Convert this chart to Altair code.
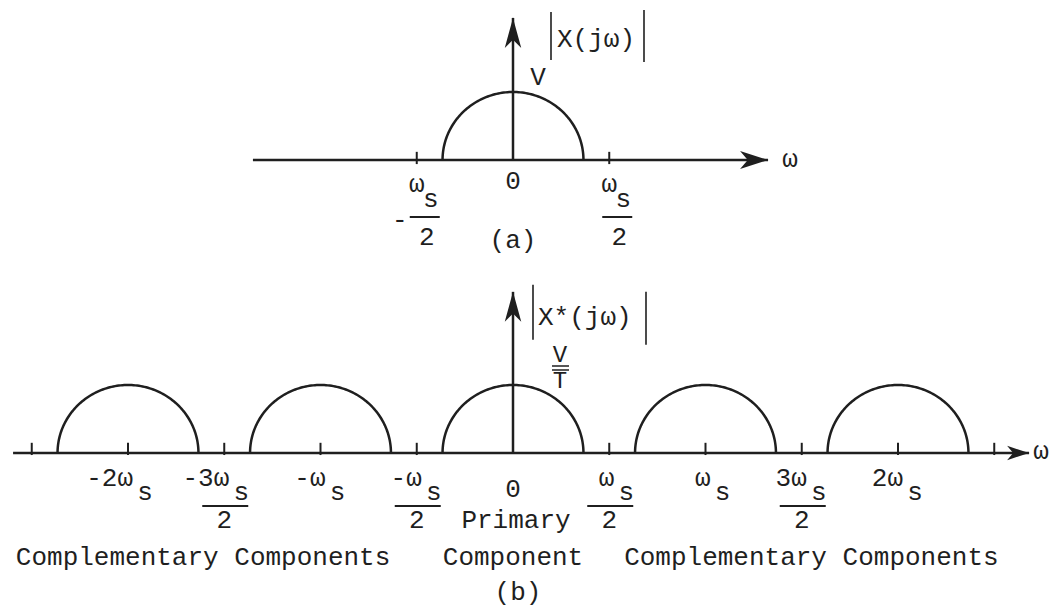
import math

import altair as alt
import pandas as pd

FONT = "Liberation Mono"
INK = "#1f1f1f"
FS = 26

# spectrum copies: centre of each copy, in multiples of the sampling frequency ωs
CENTRES_A = [0]
CENTRES_B = [-2, -1, 0, 1, 2]
BAND_EDGE = 0.366   # highest frequency present in x(t), as a fraction of ωs
PEAK = 1.0          # V in (a), V/T in (b)

TICKS_A = [-0.5, 0.5]
TICKS_B = [-2.5, -2, -1.5, -1, -0.5, 0.5, 1, 1.5, 2, 2.5]

# drawn extent of the axes: ω start, ω arrow tip, |X| arrow tip
AXIS_A = [-1.351, 1.325, 2.09]
AXIS_B = [-2.597, 2.681, 2.37]

# frequency labels of (a): ±ωs/2
LAB_A_POS = [-0.5, 0.5]
LAB_A_SIGN = ["-", ""]

# frequency labels of (b)
LAB_B_POS = [-2, -1.5, -1, -0.5, 0.5, 1, 1.5, 2]
LAB_B_NUM = ["-2ω", "-3ω", "-ω", "-ω", "ω", "ω", "3ω", "2ω"]
LAB_B_HALF = [False, True, False, True, True, False, True, False]

# region captions of (b)
CAPTION_POS = [-1.61, 1.55]
CAPTION_TXT = ["Complementary Components", "Complementary Components"]

# page layout
W = 1052
PX_WS = 192.5   # pixels per ωs
ORIGIN = 513    # pixel column of ω = 0
PX_MAG = 68     # pixels per unit of |X|

# arrowheads with the tip at the symbol origin (path units scale by sqrt(size)/2)
ARROW_H = "M0,0L-2,-0.65L-1.45,0L-2,0.65Z"
ARROW_V = "M0,0L-0.55,2L0,1.45L0.55,2Z"


def spectrum(centres):
    rows = []
    for c in centres:
        for i in range(121):
            t = math.pi * i / 120
            rows.append({"copy": c, "i": i,
                         "x": c + BAND_EDGE * math.cos(t),
                         "y": PEAK * math.sin(t)})
    return pd.DataFrame(rows)


def scales(h, base):
    xs = alt.Scale(domain=[-ORIGIN / PX_WS, (W - ORIGIN) / PX_WS], nice=False, zero=False)
    ys = alt.Scale(domain=[-(h - base) / PX_MAG, base / PX_MAG], nice=False, zero=False)

    def X(f):
        return alt.X(f, type="quantitative", scale=xs, axis=None)

    def Y(f):
        return alt.Y(f, type="quantitative", scale=ys, axis=None)

    return X, Y


def pts(xs, ys, texts=None):
    d = {"x": list(xs), "y": list(ys)}
    if texts is not None:
        d["t"] = list(texts)
    return pd.DataFrame(d)


def text(df, X, Y, **mark):
    opts = dict(font=FONT, fontSize=FS, color=INK, baseline="alphabetic", align="center")
    opts.update(mark)
    return alt.Chart(df).mark_text(**opts).encode(x=X("x"), y=Y("y"), text="t:N")


def frame(centres, ticks, axis, X, Y, tick_lo, tick_hi, r_h, r_v):
    axes = pd.DataFrame({"x": [axis[0], 0], "x2": [axis[1], 0],
                         "y": [0, 0], "y2": [0, axis[2]]})
    lines = alt.Chart(axes).mark_rule(color=INK, strokeWidth=2.5).encode(
        x=X("x"), x2="x2", y=Y("y"), y2="y2")
    tk = pd.DataFrame({"x": ticks, "y": [tick_lo] * len(ticks), "y2": [tick_hi] * len(ticks)})
    tick_marks = alt.Chart(tk).mark_rule(color=INK, strokeWidth=2).encode(
        x=X("x"), y=Y("y"), y2="y2")
    curve = alt.Chart(spectrum(centres)).mark_line(
        color=INK, strokeWidth=2.5, interpolate="linear").encode(
        x=X("x"), y=Y("y"), detail="copy:N", order="i:Q")
    head_h = alt.Chart(pts([axis[1]], [0])).mark_point(
        shape=ARROW_H, filled=True, opacity=1, color=INK, size=(2 * r_h) ** 2).encode(
        x=X("x"), y=Y("y"))
    head_v = alt.Chart(pts([0], [axis[2]])).mark_point(
        shape=ARROW_V, filled=True, opacity=1, color=INK, size=(2 * r_v) ** 2).encode(
        x=X("x"), y=Y("y"))
    return [lines, tick_marks, curve, head_h, head_v]


# ---------------- (a) spectrum of the continuous signal ----------------
HA, BASE_A = 280, 160
XA, YA = scales(HA, BASE_A)
a_layers = frame(CENTRES_A, TICKS_A, AXIS_A, XA, YA, -0.06, 0.12, 14, 15)
a_layers += [
    text(pts([0], [0], ["0"]), XA, YA, dy=29),
    text(pts(LAB_A_POS, [0, 0], ["ω", "ω"]), XA, YA, dy=32),
    text(pts(LAB_A_POS, [0, 0], ["s", "s"]), XA, YA, dx=14, dy=47),
    alt.Chart(pts(LAB_A_POS, [0, 0])).mark_rule(
        color=INK, strokeWidth=2, xOffset=-7, x2Offset=23, yOffset=57).encode(
        x=XA("x"), x2="x", y=YA("y")),
    text(pts(LAB_A_POS, [0, 0], ["2", "2"]), XA, YA, dx=10, dy=85),
    text(pts([p for p, s in zip(LAB_A_POS, LAB_A_SIGN) if s], [0],
             [s for s in LAB_A_SIGN if s]), XA, YA, dx=-17, dy=68),
    text(pts([0], [0], ["(a)"]), XA, YA, dy=88),
    text(pts([0], [PEAK], ["V"]), XA, YA, dx=25, dy=-7),
    text(pts([AXIS_A[1]], [0], ["ω"]), XA, YA, dx=22, dy=7),
    text(pts([0], [AXIS_A[2]], ["X(jω)"]), XA, YA, align="left", dx=44, dy=29),
    alt.Chart(pts([0], [AXIS_A[2]])).mark_rule(
        color=INK, strokeWidth=1.6, xOffset=38, yOffset=-6, y2Offset=42).encode(
        x=XA("x"), y=YA("y"), y2="y"),
    alt.Chart(pts([0], [AXIS_A[2]])).mark_rule(
        color=INK, strokeWidth=1.6, xOffset=131, yOffset=-8, y2Offset=44).encode(
        x=XA("x"), y=YA("y"), y2="y"),
]
panel_a = alt.layer(*a_layers).properties(width=W, height=HA)

# ---------------- (b) spectrum of the sampled signal ----------------
HB, BASE_B = 327, 173
XB, YB = scales(HB, BASE_B)
b_layers = frame(CENTRES_B, TICKS_B, AXIS_B, XB, YB, -0.03, 0.15, 11, 15)
half = [p for p, h in zip(LAB_B_POS, LAB_B_HALF) if h]
zeros = [0] * len(LAB_B_POS)
b_layers += [
    text(pts([0], [0], ["0"]), XB, YB, dy=44),
    text(pts(LAB_B_POS, zeros, LAB_B_NUM), XB, YB, align="right", dx=5, dy=33),
    text(pts(LAB_B_POS, zeros, ["s"] * len(LAB_B_POS)), XB, YB, dx=17, dy=47),
    alt.Chart(pts(half, [0] * len(half))).mark_rule(
        color=INK, strokeWidth=2, xOffset=-22, x2Offset=24, yOffset=53).encode(
        x=XB("x"), x2="x", y=YB("y")),
    text(pts(half, [0] * len(half), ["2"] * len(half)), XB, YB, dy=75),
    text(pts([0], [0], ["Primary"]), XB, YB, dx=3, dy=75),
    text(pts([0], [0], ["Component"]), XB, YB, dy=112),
    text(pts(CAPTION_POS, [0, 0], CAPTION_TXT), XB, YB, dy=112),
    text(pts([0], [0], ["(b)"]), XB, YB, dx=5, dy=147),
    text(pts([0], [PEAK], ["V"]), XB, YB, dx=47, dy=-23, fontSize=24),
    text(pts([0], [PEAK], ["T"]), XB, YB, dx=47, dy=3, fontSize=24),
    alt.Chart(pts([0], [PEAK])).mark_rule(
        color=INK, strokeWidth=1.5, xOffset=39, x2Offset=56, yOffset=-19).encode(
        x=XB("x"), x2="x", y=YB("y")),
    alt.Chart(pts([0], [PEAK])).mark_rule(
        color=INK, strokeWidth=1.5, xOffset=39, x2Offset=56, yOffset=-15).encode(
        x=XB("x"), x2="x", y=YB("y")),
    text(pts([AXIS_B[1]], [0], ["ω"]), XB, YB, dx=12, dy=6),
    text(pts([0], [AXIS_B[2]], ["X*(jω)"]), XB, YB, align="left", dx=25, dy=33),
    alt.Chart(pts([0], [AXIS_B[2]])).mark_rule(
        color=INK, strokeWidth=1.6, xOffset=20, yOffset=-7, y2Offset=48).encode(
        x=XB("x"), y=YB("y"), y2="y"),
    alt.Chart(pts([0], [AXIS_B[2]])).mark_rule(
        color=INK, strokeWidth=1.6, xOffset=133, yOffset=0, y2Offset=53).encode(
        x=XB("x"), y=YB("y"), y2="y"),
]
panel_b = alt.layer(*b_layers).properties(width=W, height=HB)

chart = alt.vconcat(panel_a, panel_b, spacing=0).properties(
    padding=0, background="white"
).configure_view(stroke=None)

chart.save("out.html", embed_options={"renderer": "svg", "actions": False})
